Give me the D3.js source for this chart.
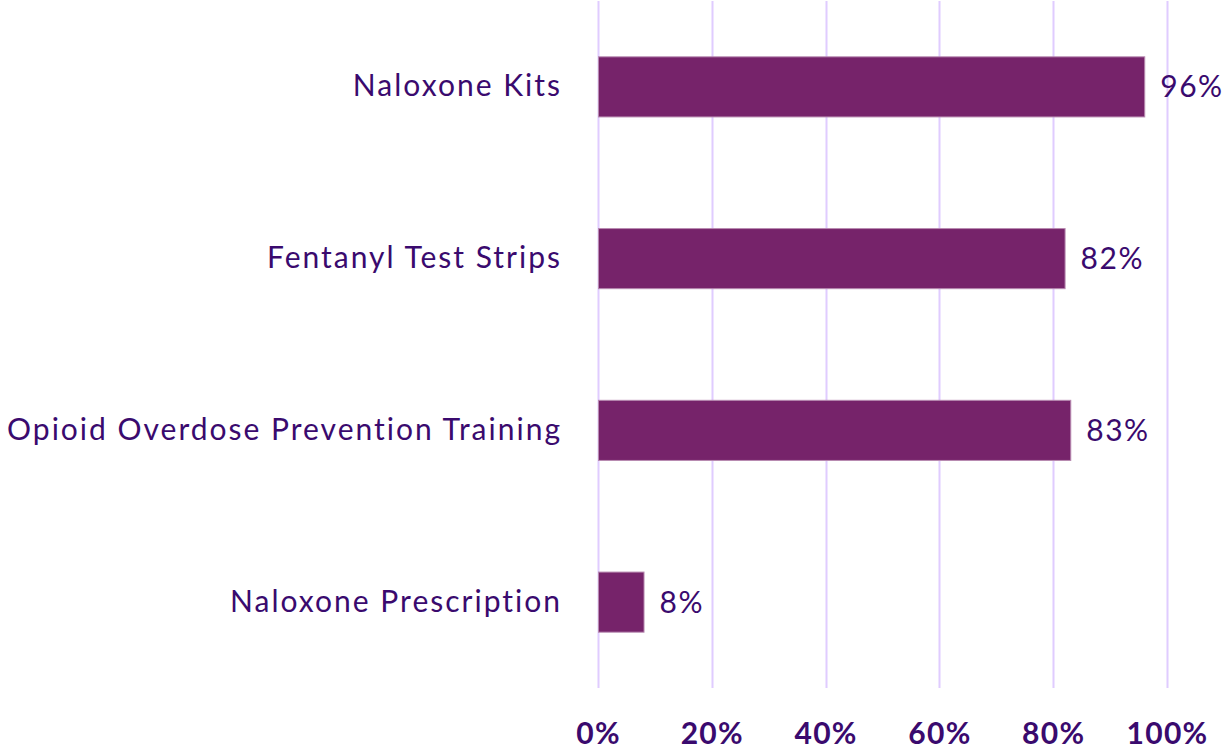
<!DOCTYPE html>
<html>
<head>
<meta charset="utf-8">
<script src="https://cdn.jsdelivr.net/npm/d3@7"></script>
<style>
	body { margin: 0; background: #fff; }
	svg { display: block; font-family: Lato, "Open Sans", sans-serif; }
</style>
</head>
<body>
<div id="chartDiv"></div>
<script>
// chart data
const categories = ["Naloxone Kits", "Fentanyl Test Strips", "Opioid Overdose Prevention Training", "Naloxone Prescription"];
const values = [96, 82, 83, 8];
const xTicks = [0, 20, 40, 60, 80, 100];

const COLORS = {
	BAR: "#76236a",
	BAR_EDGE: "#b88ab0",
	GRID: "#e0ccff",
	TEXT: "#3a0a6e"
};

var width = 1230;
var height = 752;
var margin = { top: 1, right: 63, bottom: 64, left: 598 };
var chartWidth = width - margin.left - margin.right;
var chartHeight = height - margin.top - margin.bottom;

var chart = d3.select("#chartDiv").append("svg")
	.attr("width", width)
	.attr("height", height);

var plot = chart.append("g")
	.attr("transform", "translate(" + margin.left + "," + margin.top + ")");

var xScale = d3.scaleLinear().domain([0, 100]).range([0, chartWidth]);
var yScale = d3.scaleBand().domain(categories).range([0, chartHeight]).paddingInner(0.65).paddingOuter(0.325);

// gridlines
plot.selectAll(".grid")
	.data(xTicks)
	.enter().append("line")
	.attr("x1", d => Math.round(xScale(d)) + 0.5)
	.attr("x2", d => Math.round(xScale(d)) + 0.5)
	.attr("y1", 0)
	.attr("y2", chartHeight)
	.attr("stroke", COLORS.GRID)
	.attr("stroke-width", 2);

// x axis labels
var xAxis = d3.axisBottom(xScale)
	.tickValues(xTicks)
	.tickSize(0)
	.tickPadding(35)
	.tickFormat(d => d + "%");

plot.append("g")
	.attr("transform", "translate(0," + chartHeight + ")")
	.call(xAxis)
	.call(g => g.select(".domain").remove())
	.selectAll("text")
	.attr("fill", COLORS.TEXT)
	.style("font-family", "Lato, sans-serif")
	.style("font-size", "30px")
	.style("letter-spacing", "1.3px")
	.style("font-weight", "bold");

// y axis labels
var yAxis = d3.axisLeft(yScale).tickSize(0).tickPadding(36);

plot.append("g")
	.call(yAxis)
	.call(g => g.select(".domain").remove())
	.selectAll("text")
	.attr("fill", COLORS.TEXT)
	.style("font-family", "Lato, sans-serif")
	.style("font-size", "30px")
	.style("letter-spacing", "2px");

// bars
plot.selectAll(".bar")
	.data(values)
	.enter().append("rect")
	.attr("class", "bar")
	.attr("x", xScale(0) + 0.5)
	.attr("y", (d, i) => yScale(categories[i]))
	.attr("width", d => xScale(d) - xScale(0))
	.attr("height", yScale.bandwidth())
	.attr("fill", COLORS.BAR)
	.attr("stroke", COLORS.BAR_EDGE)
	.attr("stroke-width", 1);

// value labels
plot.selectAll(".val")
	.data(values)
	.enter().append("text")
	.attr("x", d => xScale(d) + 16)
	.attr("y", (d, i) => yScale(categories[i]) + yScale.bandwidth() / 2)
	.attr("dy", "0.35em")
	.attr("fill", COLORS.TEXT)
	.style("font-size", "30px")
	.style("letter-spacing", "1.5px")
	.text(d => d + "%");
</script>
</body>
</html>
